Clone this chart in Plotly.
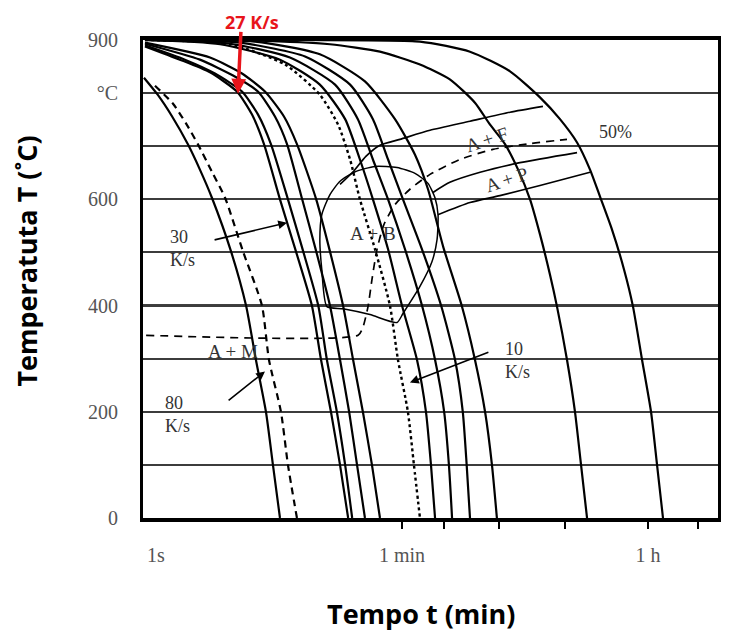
import numpy as np
import plotly.graph_objects as go

# ---------------- data (time in s, temperature in °C) ----------------
# 80 K/s pair (solid + dashed)
c80_t = [0.82, 1.03, 1.31, 1.70, 2.08, 2.54, 3.49, 4.48, 5.28, 6.24, 7.01, 7.88]
c80_T = [829, 797, 756, 704, 656, 603, 502, 400, 298, 200, 100, 0]
c80d_t = [0.985, 1.33, 1.65, 2.01, 2.54, 3.16, 4.26, 5.84, 6.56, 8.01, 9.0, 10.45]
c80d_T = [814, 780, 743, 704, 652, 603, 502, 400, 298, 200, 100, 0]

# 27-30 K/s group
c27_t = [0.834, 1.49, 2.46, 3.85, 4.94, 6.04, 7.88, 10.28, 13.4, 15.6, 18.4, 21.4, 24.5]
c27_T = [888, 863, 839, 803, 760, 704, 600, 502, 400, 298, 200, 100, 0]
c30a_t = [0.834, 1.62, 2.67, 4.19, 5.46, 6.78, 9.0, 11.6, 14.9, 17.2, 20.3, 23.3, 26.2]
c30a_T = [890, 863, 837, 803, 760, 704, 600, 502, 400, 298, 200, 100, 0]
c30b_t = [0.834, 2.08, 3.61, 5.46, 7.25, 8.86, 11.4, 14.4, 18.1, 21.4, 24.9, 28.4, 32.4]
c30b_T = [893, 863, 833, 803, 756, 704, 600, 502, 400, 298, 200, 100, 0]
c30c_t = [0.834, 2.46, 4.19, 6.14, 8.42, 10.45, 14.4, 18.1, 22.5, 26.6, 31.3, 36.4, 41.6]
c30c_T = [895, 867, 837, 803, 756, 704, 600, 502, 400, 298, 200, 100, 0]

# 10 K/s (dotted)
c10_t = [0.834, 3.43, 8.57, 15.3, 20.7, 25.3, 29.8, 38.3, 49.1, 56.1, 66.2, 73.2, 80.9]
c10_T = [900, 892, 854, 797, 741, 675, 600, 506, 400, 298, 200, 100, 0]

# slower curves
d1_t = [0.834, 2.91, 7.88, 15.3, 23.3, 29.8, 37.0, 47.6, 60.0, 77.0, 89.4, 97.2, 104]
d1_T = [900, 892, 863, 816, 751, 675, 600, 506, 400, 298, 200, 100, 0]
d2_t = [0.834, 3.43, 9.30, 19.7, 28.8, 37.0, 47.6, 63.1, 83.7, 104, 121, 131, 138]
d2_T = [900, 893, 867, 816, 751, 675, 600, 506, 400, 298, 200, 100, 0]
d3_t = [0.834, 4.05, 11.96, 25.3, 37.0, 47.6, 61.0, 83.7, 115, 145, 165, 176, 186]
d3_T = [900, 895, 869, 816, 751, 675, 600, 506, 400, 298, 200, 100, 0]
d4_t = [0.834, 5.20, 15.3, 32.4, 53.4, 74.5, 92.5, 119, 162, 202, 239, 268, 291]
d4_T = [900, 897, 873, 822, 751, 684, 619, 511, 400, 298, 200, 100, 0]
e1_t = [0.834, 4.78, 18.1, 41.6, 80.9, 133, 202, 259, 333, 414, 505, 596, 704, 791, 934, 1067, 1180, 1304]
e1_T = [900, 899, 892, 878, 854, 826, 782, 741, 704, 656, 600, 534, 458, 398, 298, 200, 100, 0]
e2_t = [0.834, 11.0, 80.9, 186, 362, 596, 831, 1104, 1370, 1618, 1975, 2412, 2801, 3255, 3780, 4178, 4614]
e2_T = [900, 900, 897, 878, 841, 792, 751, 707, 656, 605, 543, 468, 398, 298, 200, 100, 0]

# transformation regions
bain_t = [17.2, 22.5, 35.2, 55.2, 61.0, 80.9, 98.9, 107.5, 109.3, 103.9, 92.5, 74.5, 55.2,
          38.3, 27.5, 21.4, 18.1, 15.8, 15.3, 15.8, 17.2]
bain_T = [398, 394, 383, 368, 385, 436, 483, 524, 571, 603, 630, 649, 660,
          662, 652, 634, 609, 571, 524, 468, 398]
ferr_t = [21.4, 26.6, 32.9, 41.6, 58.0, 95.6, 186, 362, 626]
ferr_T = [628, 652, 681, 702, 713, 730, 747, 764, 775]
half_t = [0.85, 28.9, 31.3, 34.1, 36.4, 39.6, 44.5, 53.4, 68.5, 95.6, 157, 272, 505, 934]
half_T = [344, 344, 359, 398, 449, 506, 553, 590, 619, 647, 675, 694, 705, 713]
pstart_t = [100.5, 133, 220, 427, 1104]
pstart_T = [613, 632, 651, 669, 688]
pend_t = [109, 186, 306, 596, 1370]
pend_T = [571, 594, 607, 626, 651]

# axis ticks
x_tickvals = [1, 60, 3600]
x_ticktext = ["1s", "1 min", "1 h"]
x_minor = [60, 120, 300, 900, 3600, 8280]
y_tickvals = [0, 200, 400, 600, 800, 900]
y_ticktext = ["0", "200", "400", "600", "°C", "900"]

# labels: text, time, temperature, anchor, angle, size
labels = [
    ("30<br>K/s", 1.23, 508, "left", 0, 18),
    ("80<br>K/s", 1.12, 195, "left", 0, 18),
    ("10<br>K/s", 322, 296, "left", 0, 18),
    ("A + M", 3.61, 313, "center", 0, 19),
    ("A + B", 37.0, 536, "center", 0, 19),
    ("A + F", 246, 713, "center", -18, 19),
    ("A + P", 344, 637, "center", -18, 19),
    ("50%", 2076, 726, "center", 0, 18),
]
# arrows: head time, head temp, tail time, tail temp, colour
arrows = [
    (8.86, 556, 2.59, 523, "black"),
    (6.14, 276, 3.27, 219, "black"),
    (68.5, 255, 259, 313, "black"),
    (3.92, 799, 4.12, 918, "#e8141b"),
]

# ---------------- figure ----------------
SERIF = "Liberation Serif"
SANS = "Open Sans"
fig = go.Figure()


def curve(t, T, dash="solid", width=2.2):
    fig.add_trace(go.Scatter(x=t, y=T, mode="lines",
                             line=dict(color="black", width=width, dash=dash,
                                       shape="spline", smoothing=0.6),
                             hoverinfo="skip", showlegend=False))


curve(c80_t, c80_T)
curve(c80d_t, c80d_T, dash="7px,5px")
for t, T in [(c27_t, c27_T), (c30a_t, c30a_T), (c30b_t, c30b_T), (c30c_t, c30c_T),
             (d1_t, d1_T), (d2_t, d2_T), (d3_t, d3_T), (d4_t, d4_T),
             (e1_t, e1_T), (e2_t, e2_T)]:
    curve(t, T)
curve(c10_t, c10_T, dash="dot", width=2.4)
curve(bain_t, bain_T, width=1.5)
curve(ferr_t, ferr_T, width=1.7)
curve(half_t, half_T, dash="8px,6px", width=1.7)
curve(pstart_t, pstart_T, width=1.7)
curve(pend_t, pend_T, width=1.7)

ann = []
for txt, t, T, anchor, ang, sz in labels:
    ann.append(dict(x=np.log10(t), y=T, xref="x", yref="y", text=txt, showarrow=False,
                    xanchor=anchor, yanchor="middle", align="left", textangle=ang,
                    font=dict(family=SERIF, size=sz, color="#333")))
for ht, hT, tt, tT, col in arrows:
    ann.append(dict(x=np.log10(ht), y=hT, ax=np.log10(tt), ay=tT, xref="x", yref="y",
                    axref="x", ayref="y", text="", showarrow=True, arrowhead=2,
                    arrowsize=1.1 if col == "black" else 0.85,
                    arrowwidth=1.6 if col == "black" else 3.5, arrowcolor=col, standoff=0))
ann.append(dict(x=0.19, y=1.037, xref="paper", yref="paper", text="<b>27 K/s</b>",
                xanchor="center", yanchor="middle", borderpad=0,
                showarrow=False, font=dict(family=SANS, size=18, color="#e8141b")))
ann.append(dict(x=-0.203, y=0.537, xref="paper", yref="paper",
                xanchor="center", yanchor="middle",
                text="<b>Temperatuta T (˚C)</b>", textangle=-90, showarrow=False,
                font=dict(family=SANS, size=27, color="black")))
ann.append(dict(x=0.483, y=-0.2, xref="paper", yref="paper",
                xanchor="center", yanchor="middle",
                text="<b>Tempo t (min)</b>", showarrow=False,
                font=dict(family=SANS, size=27, color="black")))

fig.update_layout(
    width=742, height=628,
    margin=dict(l=135, r=32, t=32, b=118),
    paper_bgcolor="white", plot_bgcolor="white",
    annotations=ann,
    shapes=[dict(type="line", xref="paper", x0=0, x1=1, yref="y", y0=400, y1=400,
                 line=dict(color="black", width=2.5), layer="below")],
    xaxis=dict(type="log", range=[np.log10(0.807), np.log10(11520)],
               tickmode="array", tickvals=x_tickvals, ticktext=x_ticktext, ticks="",
               ticklabelstandoff=16, showgrid=False, zeroline=False,
               showline=True, linecolor="black", linewidth=3.5, mirror=True,
               tickfont=dict(family=SERIF, size=20, color="#555"),
               minor=dict(tickmode="array", tickvals=x_minor, ticks="outside",
                          ticklen=7, tickwidth=2, tickcolor="black", showgrid=False)),
    yaxis=dict(range=[0, 900], tickmode="array", tickvals=y_tickvals, ticktext=y_ticktext,
               ticks="", ticklabelstandoff=18, showgrid=True, gridcolor="#3c3c3c",
               gridwidth=1.6, zeroline=False,
               showline=True, linecolor="black", linewidth=3, mirror=True,
               tickfont=dict(family=SERIF, size=20, color="#555"),
               minor=dict(tick0=0, dtick=100, showgrid=True, gridcolor="#3c3c3c",
                          gridwidth=1.6, ticks="")),
)

fig.write_html("out.html")
